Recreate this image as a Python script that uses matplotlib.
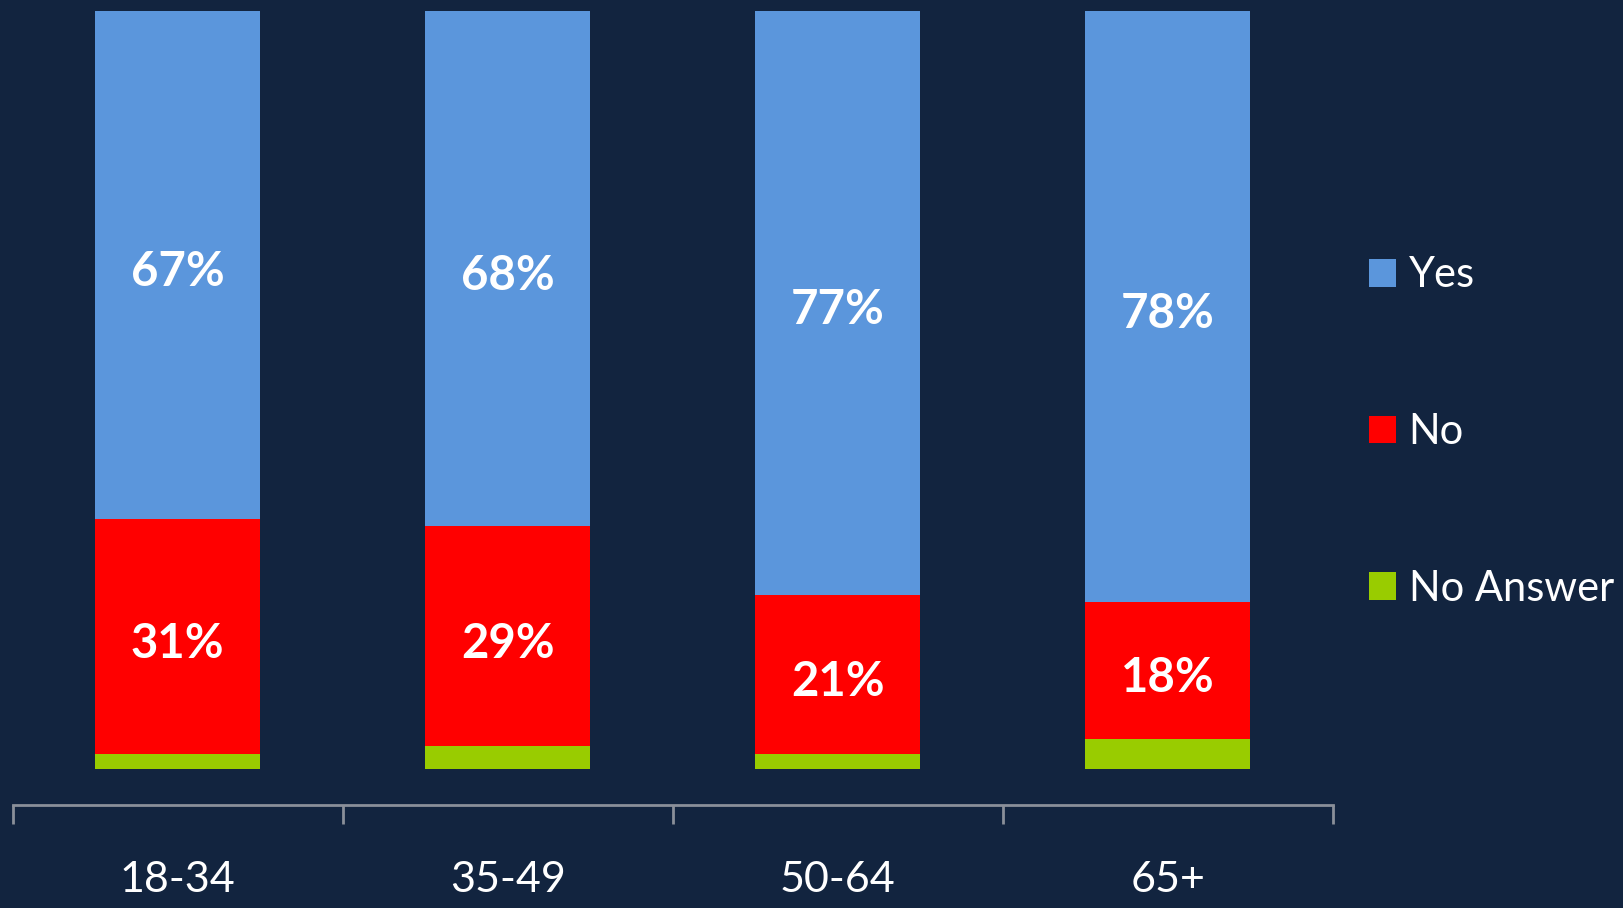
import numpy as np
import matplotlib
matplotlib.use("Agg")
import matplotlib.pyplot as plt

# Daten
gruppen = ["18-34", "35-49", "50-64", "65+"]
ja = [67, 68, 77, 78]
nein = [31, 29, 21, 18]
keine_antwort = [2, 3, 2, 4]

hintergrund = "#12243f"
farben = {"Yes": "#5b96dc", "No": "#ff0000", "No Answer": "#99cc00"}

plt.rcParams["font.family"] = ["Lato", "DejaVu Sans"]

fig = plt.figure(figsize=(16.24, 9.08), dpi=100, facecolor=hintergrund)
ax = fig.add_axes([0.0077, 0.113, 0.813, 0.887])
ax.set_facecolor(hintergrund)

x = np.arange(len(gruppen))
breite = 0.5
unten = np.zeros(len(gruppen))
balken = {}
for name, werte in [("No Answer", keine_antwort), ("No", nein), ("Yes", ja)]:
    balken[name] = ax.bar(x, werte, breite, bottom=unten, color=farben[name],
                          edgecolor="none", label=name)
    if name != "No Answer":
        for xi, b, w in zip(x, unten, werte):
            ax.text(xi, b + w / 2 - 1, f"{w}%", ha="center", va="center",
                    color="white", fontsize=34, fontweight="bold")
    unten = unten + np.array(werte)

ax.set_xlim(-0.5, len(gruppen) - 0.5)
ax.set_ylim(-4.8, 101.4)
ax.set_yticks([])
for s in ["top", "left", "right"]:
    ax.spines[s].set_visible(False)
ax.spines["bottom"].set_color("#8a8f99")
ax.spines["bottom"].set_linewidth(2)

ax.set_xticks(x)
ax.set_xticklabels(gruppen, fontsize=31, color="white")
ax.tick_params(axis="x", which="major", length=0, pad=40)
ax.set_xticks(np.arange(len(gruppen) + 1) - 0.5, minor=True)
ax.tick_params(axis="x", which="minor", length=14, width=2, color="#8a8f99")

handles = [balken["Yes"], balken["No"], balken["No Answer"]]
leg = fig.legend(handles, ["Yes", "No", "No Answer"], loc="center left",
                 bbox_to_anchor=(0.843, 0.524), frameon=False, fontsize=30,
                 labelcolor="white", labelspacing=2.85, handlelength=0.65,
                 handleheight=0.65, handletextpad=0.3, borderaxespad=0,
                 borderpad=0)

fig.savefig("out.png", dpi=100, facecolor=hintergrund)
